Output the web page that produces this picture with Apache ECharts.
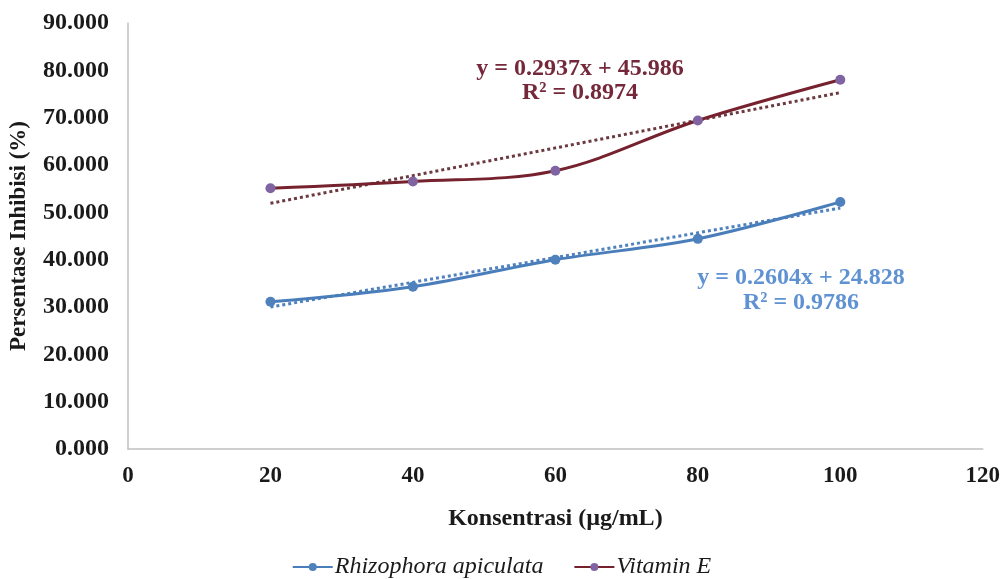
<!DOCTYPE html>
<html>
<head>
<meta charset="utf-8">
<script src="https://cdn.jsdelivr.net/npm/echarts@6/dist/echarts.min.js"></script>
<style>
html,body{margin:0;padding:0;background:#fff;}
#chart{width:1003px;height:579px;}
</style>
</head>
<body>
<div id="chart"></div>
<script>
const xValues = [20, 40, 60, 80, 100];
const rhizophora = [31.1, 34.3, 40.0, 44.4, 52.2];
const vitaminE = [55.1, 56.5, 58.8, 69.4, 78.0];
const rhizoTrendX = [20, 100];
const rhizoTrendY = [30.0, 50.9];
const vitTrendX = [20, 100];
const vitTrendY = [51.9, 75.3];
const seriesNames = ['Rhizophora apiculata', 'Vitamin E'];
const rhizoEq = ['y = 0.2604x + 24.828', 'R² = 0.9786'];
const vitEq = ['y = 0.2937x + 45.986', 'R² = 0.8974'];

const FONT = '"Liberation Serif", "Times New Roman", serif';
const zip = (xs, ys) => xs.map((x, i) => [x, ys[i]]);

const chart = echarts.init(document.getElementById('chart'), null, {renderer: 'canvas'});
chart.setOption({
  backgroundColor: '#ffffff',
  animation: false,
  grid: {left: 126, right: 20, top: 23, bottom: 130, containLabel: false},
  xAxis: {
    type: 'value', min: 0, max: 120, interval: 20,
    name: 'Konsentrasi (µg/mL)', nameLocation: 'middle', nameGap: 58,
    nameTextStyle: {fontFamily: FONT, fontWeight: 'bold', fontSize: 24, color: '#1a1a1a'},
    axisLine: {show: true, lineStyle: {color: '#c0c0c0', width: 1.5}},
    axisTick: {show: false},
    splitLine: {show: false},
    axisLabel: {fontFamily: FONT, fontWeight: 'bold', fontSize: 23, color: '#1a1a1a', margin: 16}
  },
  yAxis: {
    type: 'value', min: 0, max: 90, interval: 10,
    name: 'Persentase Inhibisi (%)', nameLocation: 'middle', nameGap: 97,
    nameTextStyle: {fontFamily: FONT, fontWeight: 'bold', fontSize: 23, color: '#1a1a1a'},
    axisLine: {show: true, lineStyle: {color: '#c0c0c0', width: 1.5}},
    axisTick: {show: false},
    splitLine: {show: false},
    axisLabel: {fontFamily: FONT, fontWeight: 'bold', fontSize: 24, color: '#1a1a1a', margin: 19,
      formatter: v => v.toFixed(3)}
  },
  legend: {
    data: seriesNames,
    top: 550, left: 'center',
    itemWidth: 40, itemHeight: 10, itemGap: 30,
    textStyle: {fontFamily: FONT, fontStyle: 'italic', fontSize: 24, color: '#1a1a1a', padding: [0,0,0,-3]}
  },
  series: [
    {
      name: seriesNames[0], type: 'line', data: zip(xValues, rhizophora),
      smooth: 0.35, symbol: 'circle', symbolSize: 10,
      lineStyle: {color: '#4a7ebb', width: 3},
      itemStyle: {color: '#4f81bd'}, z: 3
    },
    {
      name: seriesNames[1], type: 'line', data: zip(xValues, vitaminE),
      smooth: 0.35, symbol: 'circle', symbolSize: 10,
      lineStyle: {color: '#76222e', width: 3},
      itemStyle: {color: '#8064a2'}, z: 3
    },
    {
      name: 'rhizoTrend', type: 'line', data: zip(rhizoTrendX, rhizoTrendY),
      symbol: 'none', lineStyle: {color: '#4f81bd', width: 3, type: [3, 3]}, z: 2
    },
    {
      name: 'vitTrend', type: 'line', data: zip(vitTrendX, vitTrendY),
      symbol: 'none', lineStyle: {color: '#6b3a40', width: 3, type: [3, 3]}, z: 2
    }
  ],
  graphic: [
    {type: 'text', style: {text: vitEq[0] + '\n' + vitEq[1], x: 580, y: 81, align: 'center', verticalAlign: 'middle',
      font: 'bold 24px ' + FONT, fill: '#74283a', lineHeight: 24}},
    {type: 'text', style: {text: rhizoEq[0] + '\n' + rhizoEq[1], x: 801, y: 290, align: 'center', verticalAlign: 'middle',
      font: 'bold 24px ' + FONT, fill: '#5f92d3', lineHeight: 25}}
  ]
});
</script>
</body>
</html>
